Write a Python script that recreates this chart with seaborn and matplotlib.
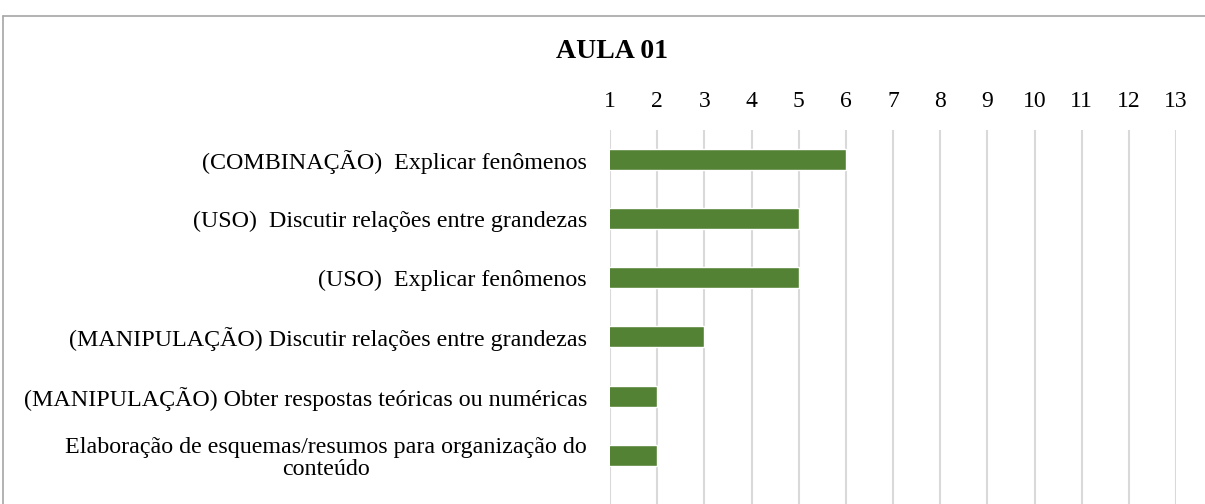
import matplotlib
matplotlib.use("Agg")
import matplotlib.pyplot as plt
import seaborn as sns
import pandas as pd
from matplotlib.lines import Line2D

categories = [
    "(COMBINAÇÃO)  Explicar fenômenos",
    "(USO)  Discutir relações entre grandezas",
    "(USO)  Explicar fenômenos",
    "(MANIPULAÇÃO) Discutir relações entre grandezas",
    "(MANIPULAÇÃO) Obter respostas teóricas ou numéricas",
    "Elaboração de esquemas/resumos para organização do\nconteúdo",
]
values = [6, 5, 5, 3, 2, 2]
ticks = list(range(1, 14))
title = "AULA 01"

sns.set_theme(style="white")
plt.rcParams["font.family"] = ["Liberation Serif", "DejaVu Serif"]

df = pd.DataFrame({"cat": categories, "val": values})

fig = plt.figure(figsize=(12.05, 5.04), dpi=100)
ax = fig.add_axes([610 / 1205, 0.0, (1176 - 610) / 1205, 1 - 129.6 / 504])

sns.barplot(data=df, y="cat", x="val", orient="h", color="#548235",
            width=0.355, saturation=1, ax=ax, zorder=3)

ax.set_xlim(1, 13)
ax.set_ylim(5.82, -0.5)
ax.set_xticks(ticks)
ax.set_xticklabels([str(t) for t in ticks], fontsize=17)
ax.xaxis.tick_top()
ax.tick_params(axis="x", length=0, pad=13, colors="black")
ax.tick_params(axis="y", length=0, pad=16.5, colors="black")
for lab in ax.get_yticklabels():
    lab.set_fontsize(17.3)
    lab.set_multialignment("center")
    lab.set_linespacing(1.05)
ax.set_xlabel("")
ax.set_ylabel("")
ax.grid(axis="x", color="#d9d9d9", linewidth=1.5, zorder=0)
ax.grid(axis="y", visible=False)
for s in ax.spines.values():
    s.set_visible(False)

fig.text(612 / 1205, 1 - 52 / 504, title, ha="center", va="center",
         fontsize=20, fontweight="bold", color="black")

# outer frame (clipped on right and bottom)
fig.add_artist(Line2D([3 / 1205, 3 / 1205], [0, 1 - 16 / 504],
                      transform=fig.transFigure, color="#a6a6a6", linewidth=1.2))
fig.add_artist(Line2D([3 / 1205, 1], [1 - 16 / 504, 1 - 16 / 504],
                      transform=fig.transFigure, color="#a6a6a6", linewidth=1.2))

fig.savefig("out.png", dpi=100)
